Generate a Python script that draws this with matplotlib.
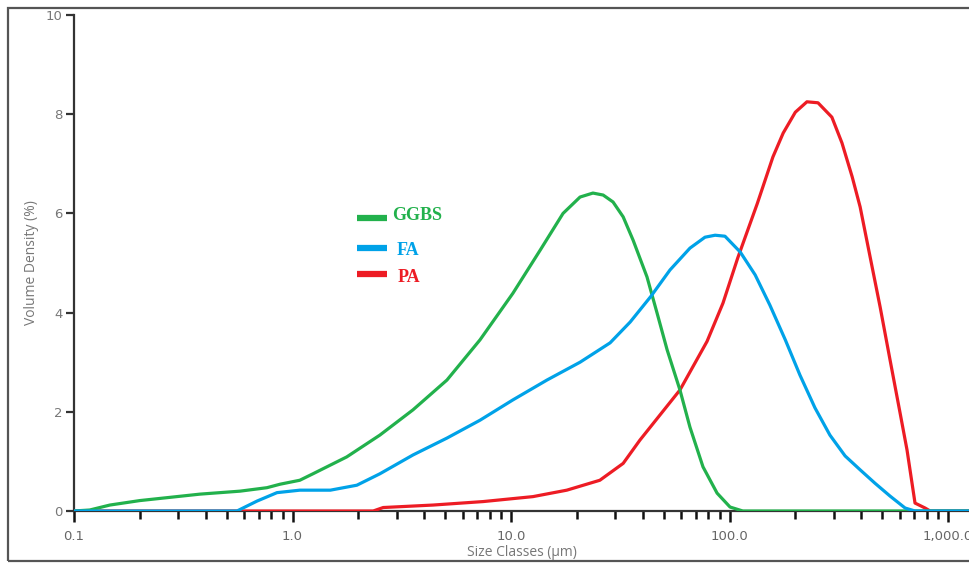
import matplotlib
matplotlib.use('Agg')
import matplotlib.pyplot as plt
from matplotlib.patches import Rectangle
from matplotlib.ticker import FixedLocator, LogLocator, NullFormatter

# particle size distributions (size in um, volume density in %)
ggbs_size = [0.1, 0.118, 0.146, 0.2, 0.377, 0.575, 0.764, 0.877, 1.08, 1.24, 1.77, 2.51,
             3.56, 5.09, 7.21, 10.2, 13.6, 17.3, 20.7, 23.7, 26.4, 29.3, 32.6, 36.2,
             41.9, 46.6, 51.8, 59.3, 65.9, 75.6, 87.7, 100.5, 115, 1250]
ggbs_vol = [0, 0.02, 0.12, 0.21, 0.34, 0.40, 0.47, 0.54, 0.62, 0.75, 1.09, 1.53,
            2.04, 2.64, 3.45, 4.39, 5.26, 6.0, 6.33, 6.41, 6.37, 6.23, 5.93, 5.46,
            4.72, 3.99, 3.25, 2.44, 1.69, 0.89, 0.36, 0.08, 0, 0]

fa_size = [0.1, 0.557, 0.688, 0.849, 1.08, 1.49, 1.97, 2.51, 3.56, 5.09, 7.21, 10.2,
           14.6, 20.7, 28.4, 35.1, 43.7, 53.4, 65.9, 77.2, 85.9, 95.3, 112, 131,
           153, 180, 210, 246, 288, 338, 396, 463, 543, 636, 706, 1250]
fa_vol = [0, 0, 0.20, 0.37, 0.42, 0.42, 0.52, 0.75, 1.13, 1.47, 1.83, 2.24,
          2.64, 3.0, 3.39, 3.81, 4.33, 4.86, 5.30, 5.52, 5.56, 5.54, 5.22, 4.76,
          4.15, 3.45, 2.74, 2.08, 1.53, 1.11, 0.83, 0.56, 0.30, 0.06, 0, 0]

pa_size = [0.1, 2.34, 2.60, 4.40, 7.45, 12.6, 18.0, 25.5, 32.6, 38.9, 59.3, 78.9,
           93.3, 109, 134, 158, 176, 200, 226, 254, 294, 327, 364, 396, 440, 489,
           543, 603, 649, 706, 785, 828, 1250]
pa_vol = [0, 0, 0.07, 0.12, 0.19, 0.29, 0.42, 0.62, 0.96, 1.43, 2.44, 3.42,
          4.19, 5.1, 6.2, 7.14, 7.62, 8.04, 8.25, 8.23, 7.94, 7.42, 6.74, 6.13, 5.12, 4.11,
          3.04, 1.98, 1.23, 0.16, 0.06, 0, 0]

x_ticks = [0.1, 1, 10, 100, 1000]
x_ticklabels = ['0.1', '1.0', '10.0', '100.0', '1,000.0']
y_ticks = [0, 2, 4, 6, 8, 10]

c_ggbs = '#22b14c'
c_fa = '#00a2e8'
c_pa = '#ed1c24'

fig = plt.figure(figsize=(9.69, 5.64), dpi=100, facecolor='white')
ax = fig.add_axes([74/969, 53/564, 895/969, 496/564])

ax.plot(pa_size, pa_vol, color=c_pa, lw=2.3, solid_joinstyle='round', zorder=3)
ax.plot(ggbs_size, ggbs_vol, color=c_ggbs, lw=2.3, solid_joinstyle='round', zorder=4)
ax.plot(fa_size, fa_vol, color=c_fa, lw=2.3, solid_joinstyle='round', zorder=5)

ax.set_xscale('log')
ax.set_xlim(0.1, 1247)
ax.set_ylim(0, 10)
ax.xaxis.set_major_locator(FixedLocator(x_ticks))
ax.set_xticklabels(x_ticklabels)
ax.xaxis.set_minor_locator(LogLocator(base=10, subs=range(2, 10)))
ax.xaxis.set_minor_formatter(NullFormatter())
ax.set_yticks(y_ticks)

# hide the right and top spines
ax.spines['right'].set_visible(False)
ax.spines['top'].set_visible(False)
for s in ['left', 'bottom']:
    ax.spines[s].set_color('#333333')
    ax.spines[s].set_linewidth(1.6)

ax.tick_params(axis='x', which='major', length=8, width=1.8, color='#111111',
               labelsize=9.5, labelcolor='#666666', pad=6)
ax.tick_params(axis='x', which='minor', length=6, width=1.8, color='#111111')
ax.tick_params(axis='y', which='major', length=6, width=1.6, color='#333333',
               labelsize=9.5, labelcolor='#777777', pad=2)
for lab in ax.get_xticklabels() + ax.get_yticklabels():
    lab.set_fontfamily('DejaVu Sans')

ax.set_xlabel('Size Classes (μm)', fontsize=10, color='#777777', family='Open Sans', labelpad=1)
ax.set_ylabel('Volume Density (%)', fontsize=10, color='#777777', family='Open Sans', labelpad=5)

# hand drawn legend
leg_x = [1.97, 2.71]
for c, yl in [(c_ggbs, 5.9), (c_fa, 5.3), (c_pa, 4.78)]:
    ax.plot(leg_x, [yl, yl], color=c, lw=4.5, solid_capstyle='butt', zorder=6)
ax.text(2.85, 5.95, 'GGBS', color=c_ggbs, fontsize=13, fontweight='bold',
        family='Liberation Serif', va='center', ha='left')
ax.text(3.0, 5.25, 'FA', color=c_fa, fontsize=13, fontweight='bold',
        family='Liberation Serif', va='center', ha='left')
ax.text(3.03, 4.7, 'PA', color=c_pa, fontsize=13, fontweight='bold',
        family='Liberation Serif', va='center', ha='left')

# outer frame
fig.patches.append(Rectangle((8/969, 3/564), 1.2, 553/564, transform=fig.transFigure,
                             fill=False, edgecolor='#555555', lw=1.6))

fig.savefig('out.png', dpi=100, facecolor='white')
